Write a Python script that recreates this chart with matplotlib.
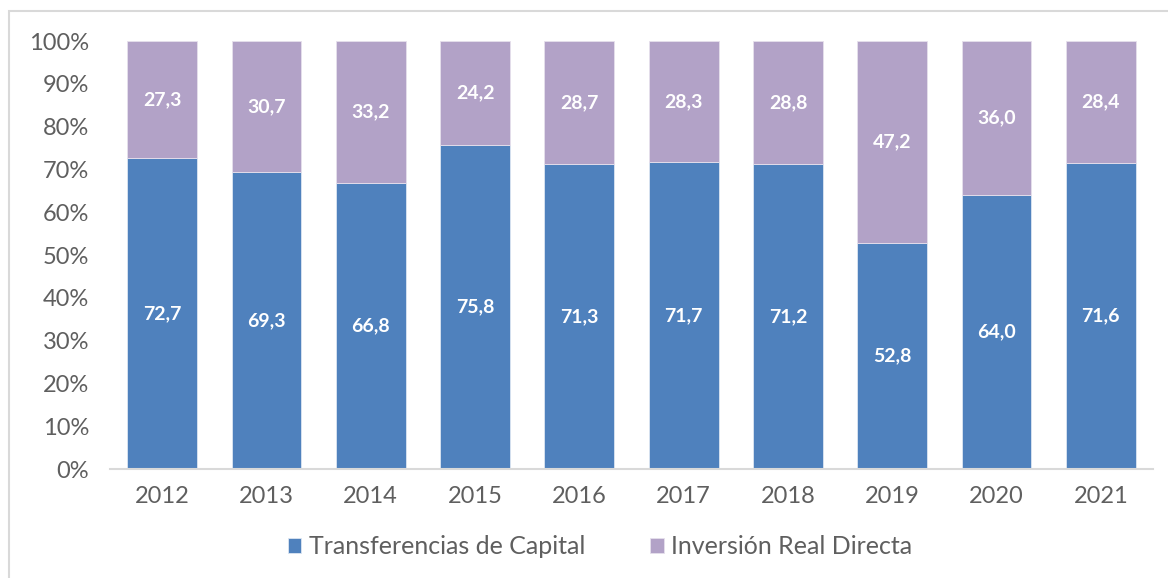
import matplotlib
matplotlib.use("Agg")
import matplotlib.pyplot as plt
from matplotlib.patches import Rectangle

years = ["2012", "2013", "2014", "2015", "2016", "2017", "2018", "2019", "2020", "2021"]
transferencias = [72.7, 69.3, 66.8, 75.8, 71.3, 71.7, 71.2, 52.8, 64.0, 71.6]
inversion = [27.3, 30.7, 33.2, 24.2, 28.7, 28.3, 28.8, 47.2, 36.0, 28.4]
series_names = ["Transferencias de Capital", "Inversión Real Directa"]
colors = ["#4F81BD", "#B2A2C7"]
yticks = [0, 10, 20, 30, 40, 50, 60, 70, 80, 90, 100]

plt.rcParams['font.family'] = ['Lato', 'DejaVu Sans']

fig = plt.figure(figsize=(11.68, 5.78), dpi=100)
# outer chart frame
fig.patches.append(Rectangle((9/1168, -0.01), 1.02, 1 - 11/578 + 0.01, transform=fig.transFigure,
                             fill=False, edgecolor="#D9D9D9", linewidth=1.5))

ax = fig.add_axes([110/1168, 1 - 469/578, (1153-110)/1168, (469-41)/578])
x = list(range(len(years)))
w = 0.67
b1 = ax.bar(x, transferencias, w, color=colors[0], edgecolor="#DCE6F2", linewidth=0.6, label=series_names[0])
b2 = ax.bar(x, inversion, w, bottom=transferencias, color=colors[1], edgecolor="#E6E0EC", linewidth=0.6, label=series_names[1])

def fmt(v):
    return f"{v:.1f}".replace(".", ",")

for xi, t, i in zip(x, transferencias, inversion):
    ax.text(xi, t / 2, fmt(t), ha="center", va="center", color="white", fontsize=14, fontweight="bold")
    ax.text(xi, t + i / 2, fmt(i), ha="center", va="center", color="white", fontsize=14, fontweight="bold")

ax.set_xlim(-0.5, len(years) - 0.5)
ax.set_ylim(0, 100)
ax.set_yticks(yticks)
ax.set_yticklabels([f"{v}%" for v in yticks])
ax.set_xticks(x)
ax.set_xticklabels(years)
ax.tick_params(axis="both", length=0, labelsize=17, labelcolor="#5F5F5F")
ax.tick_params(axis="y", pad=15)
ax.tick_params(axis="x", pad=12)
for s in ["top", "right", "left"]:
    ax.spines[s].set_visible(False)
ax.spines["bottom"].set_color("#D9D9D9")
ax.spines["bottom"].set_linewidth(1.5)

leg = fig.legend(handles=[b1, b2], labels=series_names, loc="center", bbox_to_anchor=(600/1168, 1 - 547/578),
                 ncol=2, frameon=False, prop={"size": 18}, handlelength=0.55, handleheight=0.55,
                 handletextpad=0.3, columnspacing=2.6)
for t in leg.get_texts():
    t.set_color("#5F5F5F")

fig.savefig("out.png", dpi=100)
